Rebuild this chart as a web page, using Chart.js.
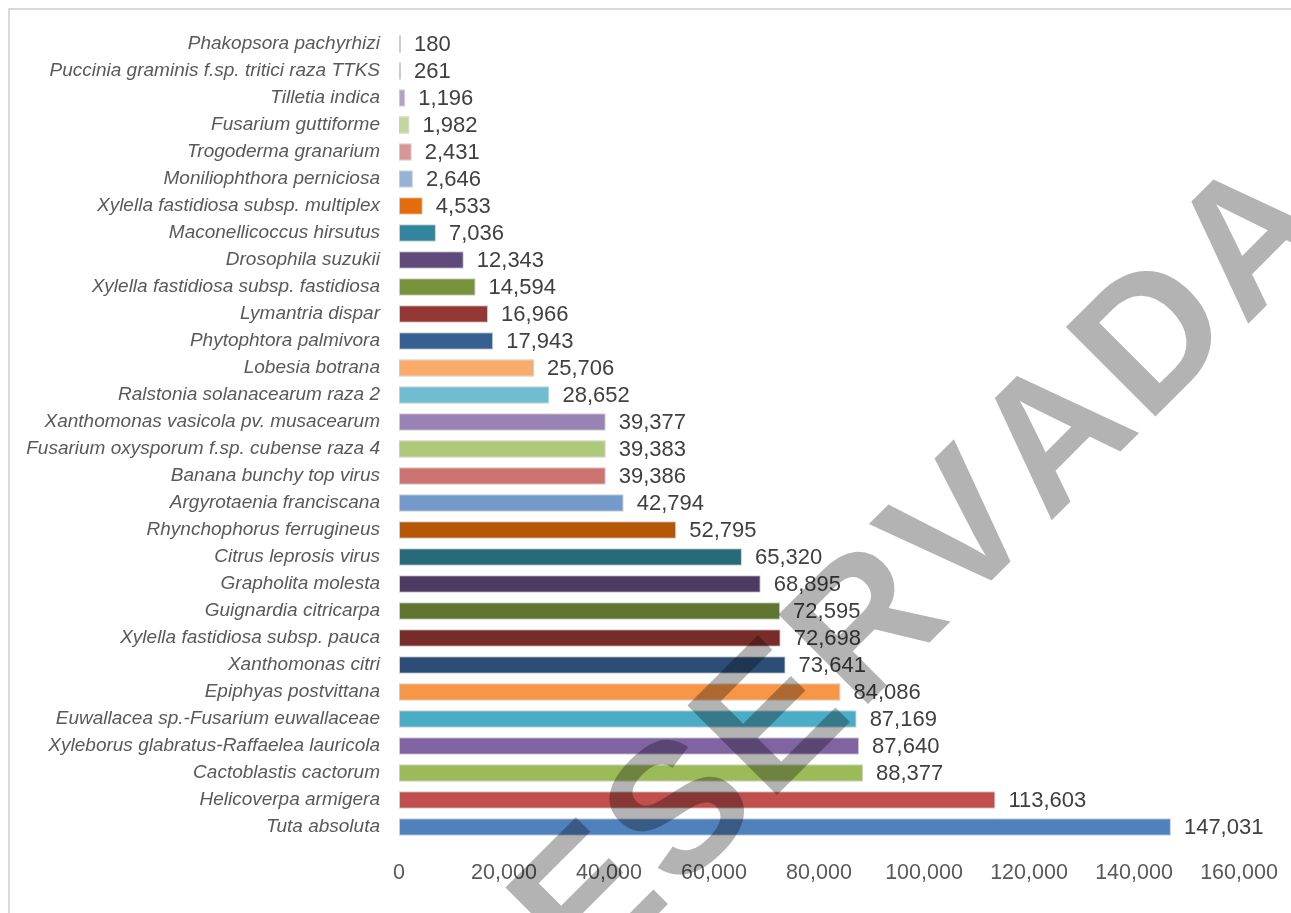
<!DOCTYPE html>
<html>
<head>
<meta charset="utf-8">
<title>Plagas</title>
<script src="https://cdn.jsdelivr.net/npm/chart.js@4.4.0/dist/chart.umd.min.js"></script>
<style>
  body { margin: 0; background: white; }
  #contenedor { width: 1291px; height: 913px; }
</style>
</head>
<body>
<div id="contenedor"><canvas id="miGrafico"></canvas></div>
<script>
// datos (de arriba a abajo)
const categorias = [
  "Phakopsora pachyrhizi",
  "Puccinia graminis f.sp. tritici raza TTKS",
  "Tilletia indica",
  "Fusarium guttiforme",
  "Trogoderma granarium",
  "Moniliophthora perniciosa",
  "Xylella fastidiosa subsp. multiplex",
  "Maconellicoccus hirsutus",
  "Drosophila suzukii",
  "Xylella fastidiosa subsp. fastidiosa",
  "Lymantria dispar",
  "Phytophtora palmivora",
  "Lobesia botrana",
  "Ralstonia solanacearum raza 2",
  "Xanthomonas vasicola pv. musacearum",
  "Fusarium oxysporum f.sp. cubense raza 4",
  "Banana bunchy top virus",
  "Argyrotaenia franciscana",
  "Rhynchophorus ferrugineus",
  "Citrus leprosis virus",
  "Grapholita molesta",
  "Guignardia citricarpa",
  "Xylella fastidiosa subsp. pauca",
  "Xanthomonas citri",
  "Epiphyas postvittana",
  "Euwallacea sp.-Fusarium euwallaceae",
  "Xyleborus glabratus-Raffaelea lauricola",
  "Cactoblastis cactorum",
  "Helicoverpa armigera",
  "Tuta absoluta"
];

const valores = [
  180, 261, 1196, 1982, 2431, 2646, 4533, 7036, 12343, 14594,
  16966, 17943, 25706, 28652, 39377, 39383, 39386, 42794, 52795, 65320,
  68895, 72595, 72698, 73641, 84086, 87169, 87640, 88377, 113603, 147031
];

const colores = [
  "#fac090", "#93cddd", "#b3a2c7", "#c3d69b", "#d99694", "#95b3d7",
  "#e46c0a", "#31859c", "#604a7b", "#77933c", "#953735", "#376092",
  "#f9ab6b", "#6fbdd1", "#9983b5", "#afc97a", "#cd7371", "#729aca",
  "#b65708", "#276a7c", "#4d3b62", "#5f7530", "#772c2a", "#2c4d75",
  "#f79646", "#4bacc6", "#8064a2", "#9bbb59", "#c0504d", "#4f81bd"
];

const ejeMin = 0;
const ejeMax = 160000;
const ejePaso = 20000;

const marcaAgua = "RESERVADA";

const fuente = "'Liberation Sans', Arial, sans-serif";

// fondo blanco y marco del grafico
const fondo = {
  id: "fondo",
  beforeDraw(chart) {
    const ctx = chart.ctx;
    ctx.save();
    ctx.fillStyle = "white";
    ctx.fillRect(0, 0, chart.width, chart.height);
    ctx.strokeStyle = "#d9d9d9";
    ctx.lineWidth = 2;
    ctx.beginPath();
    ctx.moveTo(9, chart.height + 5);
    ctx.lineTo(9, 9);
    ctx.lineTo(chart.width + 5, 9);
    ctx.stroke();
    ctx.restore();
  }
};

// etiquetas con el valor al final de cada barra
const etiquetas = {
  id: "etiquetas",
  afterDatasetsDraw(chart) {
    const ctx = chart.ctx;
    const meta = chart.getDatasetMeta(0);
    ctx.save();
    ctx.font = "22px " + fuente;
    ctx.fillStyle = "#404040";
    ctx.textAlign = "left";
    ctx.textBaseline = "middle";
    meta.data.forEach(function (barra, i) {
      ctx.fillText(valores[i].toLocaleString("en-US"), barra.x + 13, barra.y + 1);
    });
    ctx.restore();
  }
};

// marca de agua encima de todo
const agua = {
  id: "agua",
  afterDraw(chart) {
    const ctx = chart.ctx;
    ctx.save();
    ctx.globalCompositeOperation = "multiply";
    ctx.fillStyle = "#b3b3b3";
    ctx.font = "bold 184px " + fuente;
    ctx.letterSpacing = "6px";
    ctx.fontKerning = "none";
    ctx.textBaseline = "alphabetic";
    ctx.translate(488, 1084);
    ctx.rotate(-Math.PI / 4);
    ctx.fillText(marcaAgua, 0, 0);
    ctx.restore();
  }
};

const ctx = document.getElementById("miGrafico").getContext("2d");
const grafico = new Chart(ctx, {
  type: "bar",
  data: {
    labels: categorias,
    datasets: [{
      data: valores,
      backgroundColor: colores,
      borderColor: "#cccccc",
      borderWidth: 1,
      borderSkipped: false,
      minBarLength: 2,
      barPercentage: 0.64,
      categoryPercentage: 1
    }]
  },
  options: {
    indexAxis: "y",
    responsive: true,
    maintainAspectRatio: false,
    animation: false,
    layout: {
      padding: { top: 30.5, left: 0, right: 52, bottom: 26.5 }
    },
    plugins: {
      legend: { display: false },
      tooltip: { enabled: false }
    },
    scales: {
      x: {
        min: ejeMin,
        max: ejeMax,
        grid: { display: false, drawTicks: false },
        border: { display: false },
        ticks: {
          stepSize: ejePaso,
          padding: 20,
          color: "#595959",
          font: { family: fuente, size: 21.5 },
          maxRotation: 0
        },
        afterFit(escala) {
          escala.height = 46;
          escala.paddingLeft = 0;
          escala.paddingRight = 0;
        }
      },
      y: {
        grid: { display: false, drawTicks: false },
        border: { display: false },
        ticks: {
          padding: 19,
          color: "#595959",
          autoSkip: false,
          font: { family: fuente, size: 19, style: "italic" }
        },
        afterFit(escala) {
          escala.width = 399;
          escala.paddingTop = 0;
          escala.paddingBottom = 0;
        }
      }
    }
  },
  plugins: [fondo, etiquetas, agua]
});
</script>
</body>
</html>
